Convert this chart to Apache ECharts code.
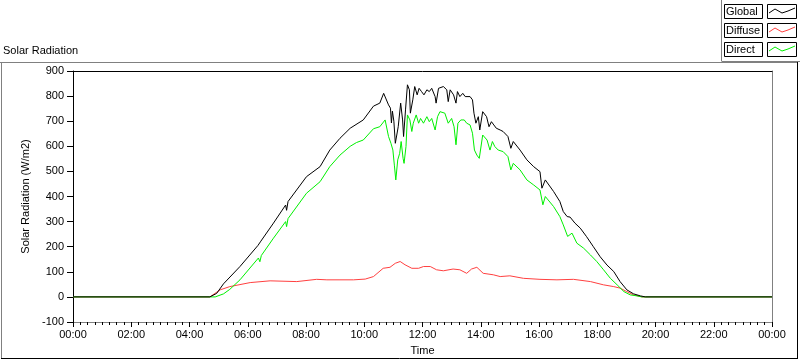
<!DOCTYPE html>
<html>
<head>
<meta charset="utf-8">
<script src="https://cdn.jsdelivr.net/npm/echarts@6/dist/echarts.min.js"></script>
<style>
html,body{margin:0;padding:0;background:#fff;}
#c{width:800px;height:361px;}
</style>
</head>
<body>
<div id="c"></div>
<script>
// ---- data (times as HH:MM, values in W/m2) ----
const seriesNames = ['Global', 'Diffuse', 'Direct'];
const seriesColors = ['#000000', '#ff4040', '#00f000'];

const globalTimes = ['00:00','04:42','04:56','05:10','05:44','06:21','06:24','06:27','06:53','07:18','07:20','07:23','08:01','08:29','08:49','09:10','09:31','09:58','10:19','10:32','10:40','10:43','10:50','10:54','10:56','10:58','11:01','11:04','11:10','11:15','11:19','11:21','11:25','11:29','11:33','11:35','11:40','11:44','11:49','11:53','11:58','12:03','12:09','12:14','12:19','12:26','12:28','12:33','12:43','12:50','12:53','12:57','13:04','13:09','13:12','13:17','13:23','13:28','13:32','13:38','13:43','13:46','13:50','13:55','13:58','14:04','14:08','14:12','14:17','14:22','14:27','14:32','14:40','14:46','14:56','15:02','15:07','15:21','15:35','15:49','16:02','16:06','16:13','16:30','16:43','16:50','16:58','17:04','17:14','17:25','17:38','17:52','18:06','18:20','18:34','18:47','19:01','19:15','19:29','19:39','24:00'];
const globalValues = [0,0,14,52,121,205,200,222,294,366,345,380,479,519,585,632,672,705,760,772,811,814,765,752,693,740,700,612,678,772,705,639,745,845,825,732,785,838,805,831,818,805,825,818,831,798,772,831,838,825,778,825,805,772,818,798,811,798,791,798,785,732,692,718,665,738,738,718,678,698,685,672,665,659,639,592,619,585,546,519,499,433,466,420,380,340,320,318,294,274,240,200,160,127,101,61,28,12,4,0,0];

const diffuseTimes = ['00:00','04:42','05:03','05:23','06:05','06:46','07:41','08:22','08:43','09:10','09:38','10:02','10:19','10:39','10:53','11:04','11:14','11:24','11:38','11:52','12:02','12:16','12:29','12:43','13:03','13:17','13:31','13:41','13:52','14:05','14:26','14:40','15:00','15:28','16:02','16:37','17:11','17:46','18:13','18:34','18:47','19:01','19:15','19:32','24:00'];
const diffuseValues = [0,0,28,41,57,64,61,70,68,68,68,71,81,114,118,134,141,128,114,114,121,121,108,104,111,108,94,111,118,94,88,81,84,74,70,68,70,61,48,41,35,21,8,0,0];

const directTimes = ['00:00','04:53','05:10','05:23','05:44','06:22','06:25','06:28','06:53','07:18','07:20','07:23','08:01','08:29','08:49','09:10','09:31','09:44','09:58','10:19','10:32','10:43','10:50','10:55','10:59','11:02','11:05','11:09','11:13','11:16','11:20','11:22','11:26','11:29','11:34','11:38','11:41','11:47','11:52','11:56','12:02','12:09','12:14','12:19','12:26','12:31','12:36','12:46','12:53','13:00','13:05','13:09','13:13','13:19','13:26','13:31','13:38','13:43','13:47','13:52','13:57','14:04','14:08','14:13','14:19','14:24','14:29','14:36','14:46','14:56','15:02','15:07','15:21','15:35','15:49','16:02','16:08','16:13','16:30','16:43','16:50','16:59','17:08','17:18','17:32','17:46','17:59','18:13','18:27','18:41','18:55','19:08','19:22','19:32','24:00'];
const directValues = [0,0,12,30,68,155,140,165,234,300,280,312,413,459,519,565,600,615,625,670,678,705,639,612,585,525,466,546,572,619,552,532,599,725,705,659,692,725,692,711,692,718,698,711,665,718,738,732,692,711,678,606,692,705,705,692,685,652,585,565,552,645,645,625,585,619,599,585,579,559,506,532,506,466,446,426,367,400,360,320,287,241,254,214,194,167,141,108,74,48,21,8,4,0,0];

const xTickLabels = ['00:00','02:00','04:00','06:00','08:00','10:00','12:00','14:00','16:00','18:00','20:00','22:00','00:00'];
const yTicks = [-100, 0, 100, 200, 300, 400, 500, 600, 700, 800, 900];

// ---- helpers ----
function toMin(s) { const p = s.split(':'); return (+p[0]) * 60 + (+p[1]); }
function pairs(times, vals) { return times.map((t, i) => [toMin(t), vals[i]]); }

const FONT = 'Liberation Sans';
const chart = echarts.init(document.getElementById('c'), null, {renderer: 'canvas'});

const seriesData = {
  Global: pairs(globalTimes, globalValues),
  Diffuse: pairs(diffuseTimes, diffuseValues),
  Direct: pairs(directTimes, directValues)
};

// legend drawn as boxed entries (LabVIEW style)
const legendGraphics = [];
seriesNames.forEach((name, i) => {
  const y0 = 4 + i * 19;
  legendGraphics.push({
    type: 'rect', shape: {x: 724.5, y: y0 + 0.5, width: 38, height: 14},
    style: {fill: '#fff', stroke: '#000', lineWidth: 1}, silent: true
  });
  legendGraphics.push({
    type: 'text', x: 726, y: y0 + 8,
    style: {text: name, font: '11px "' + FONT + '"', fill: '#000', textVerticalAlign: 'middle'}, silent: true
  });
  legendGraphics.push({
    type: 'rect', shape: {x: 767.5, y: y0 + 0.5, width: 29, height: 14},
    style: {fill: '#fff', stroke: '#000', lineWidth: 1}, silent: true
  });
  legendGraphics.push({
    type: 'polyline',
    shape: {points: [[769, y0 + 9], [775, y0 + 5], [782, y0 + 9], [788, y0 + 7], [795, y0 + 4]]},
    style: {stroke: seriesColors[i], lineWidth: 1, fill: null}, silent: true
  });
});

const frameGraphics = [
  {type: 'line', shape: {x1: 721.5, y1: 0, x2: 721.5, y2: 61}, style: {stroke: '#808080', lineWidth: 1}, silent: true},
  {type: 'line', shape: {x1: 721.5, y1: 61.5, x2: 800, y2: 61.5}, style: {stroke: '#808080', lineWidth: 1}, silent: true},
  {type: 'line', shape: {x1: 0, y1: 62.5, x2: 798, y2: 62.5}, style: {stroke: '#808080', lineWidth: 1}, silent: true},
  {type: 'line', shape: {x1: 1.5, y1: 62, x2: 1.5, y2: 359}, style: {stroke: '#808080', lineWidth: 1}, silent: true},
  {type: 'line', shape: {x1: 797.5, y1: 62, x2: 797.5, y2: 359}, style: {stroke: '#000', lineWidth: 1}, silent: true},
  {type: 'line', shape: {x1: 1, y1: 358.5, x2: 798, y2: 358.5}, style: {stroke: '#000', lineWidth: 1}, silent: true}
];

const option = {
  animation: false,
  backgroundColor: '#fff',
  textStyle: {fontFamily: FONT},
  title: {
    text: 'Solar Radiation', left: 3, top: 45, padding: 0,
    textStyle: {fontSize: 11, fontWeight: 'normal', color: '#000', fontFamily: FONT}
  },
  graphic: frameGraphics.concat(legendGraphics),
  grid: {left: 73, right: 28, top: 71, bottom: 39, containLabel: false},
  xAxis: [{
    type: 'value', min: 0, max: 1440, interval: 120,
    name: 'Time', nameLocation: 'middle', nameGap: 23,
    nameTextStyle: {fontSize: 11, color: '#000', fontFamily: FONT},
    axisLine: {show: true, onZero: false, lineStyle: {color: '#808080', width: 1}},
    axisTick: {show: true, length: 5, lineStyle: {color: '#000'}},
    minorTick: {show: true, splitNumber: 8, length: 3, lineStyle: {color: '#000'}},
    splitLine: {show: false},
    axisLabel: {
      fontSize: 11, color: '#000', margin: 7, fontFamily: FONT,
      formatter: v => xTickLabels[Math.round(v / 120)]
    }
  }, {
    type: 'value', min: 0, max: 1440, position: 'top',
    axisLine: {show: true, onZero: false, lineStyle: {color: '#000', width: 1}},
    axisTick: {show: false}, axisLabel: {show: false}, splitLine: {show: false}
  }],
  yAxis: [{
    type: 'value', min: yTicks[0], max: yTicks[yTicks.length - 1], interval: 100,
    name: 'Solar Radiation (W/m2)', nameLocation: 'middle', nameGap: 34, nameRotate: 90,
    nameTextStyle: {fontSize: 11, color: '#000', fontFamily: FONT},
    axisLine: {show: true, onZero: false, lineStyle: {color: '#000', width: 1}},
    axisTick: {show: true, length: 6, lineStyle: {color: '#000'}},
    splitLine: {show: false},
    axisLabel: {fontSize: 11, color: '#000', margin: 9, fontFamily: FONT}
  }, {
    type: 'value', min: yTicks[0], max: yTicks[yTicks.length - 1], position: 'right',
    axisLine: {show: true, onZero: false, lineStyle: {color: '#808080', width: 1}},
    axisTick: {show: false}, axisLabel: {show: false}, splitLine: {show: false}
  }],
  series: ['Diffuse', 'Direct', 'Global'].map(name => ({
    name: name, type: 'line', xAxisIndex: 0, yAxisIndex: 0,
    data: seriesData[name], showSymbol: false, symbol: 'none',
    lineStyle: {color: seriesColors[seriesNames.indexOf(name)], width: 1},
    itemStyle: {color: seriesColors[seriesNames.indexOf(name)]},
    z: name === 'Global' ? 4 : 3
  }))
};
chart.setOption(option);
</script>
</body>
</html>
